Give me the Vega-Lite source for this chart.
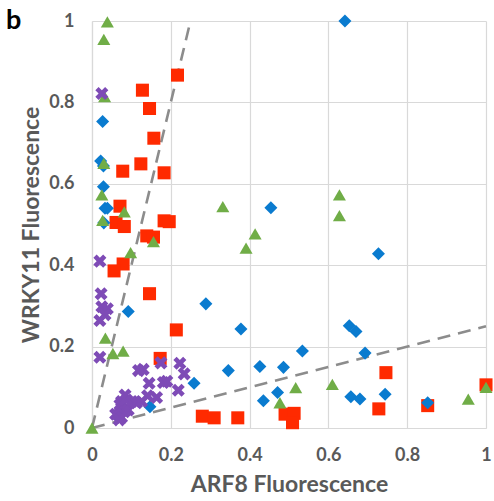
{
  "$schema": "https://vega.github.io/schema/vega-lite/v6.json",
  "width": 394,
  "height": 407,
  "autosize": {"type": "none"},
  "padding": {"left": 92, "top": 21, "right": 8, "bottom": 73},
  "background": "white",
  "title": {"text": "b", "anchor": "start", "frame": "group", "orient": "top", "dx": -86, "dy": 23, "offset": 0, "fontSize": 27, "fontWeight": "bold", "font": "Lato", "color": "#000000", "baseline": "top"},
  "config": {
    "view": {"stroke": null},
    "axis": {"font": "Lato", "labelFont": "Lato", "titleFont": "Lato", "labelFontSize": 18, "labelFontWeight": "bold", "labelColor": "#595959", "titleFontSize": 23, "titleFontWeight": "bold", "titleColor": "#595959", "gridColor": "#d9d9d9", "gridWidth": 1.2, "domainColor": "#d9d9d9", "domainWidth": 1.2, "ticks": false}
  },
  "datasets": {
    "pts": [
      {"s": "Red", "x": 0.217, "y": 0.867}, {"s": "Red", "x": 0.128, "y": 0.830}, {"s": "Red", "x": 0.146, "y": 0.785}, {"s": "Red", "x": 0.157, "y": 0.712},
      {"s": "Red", "x": 0.124, "y": 0.649}, {"s": "Red", "x": 0.183, "y": 0.627}, {"s": "Red", "x": 0.078, "y": 0.631}, {"s": "Red", "x": 0.071, "y": 0.545},
      {"s": "Red", "x": 0.061, "y": 0.505}, {"s": "Red", "x": 0.082, "y": 0.495}, {"s": "Red", "x": 0.183, "y": 0.509}, {"s": "Red", "x": 0.196, "y": 0.507},
      {"s": "Red", "x": 0.139, "y": 0.472}, {"s": "Red", "x": 0.156, "y": 0.469}, {"s": "Red", "x": 0.079, "y": 0.403}, {"s": "Red", "x": 0.056, "y": 0.386},
      {"s": "Red", "x": 0.146, "y": 0.330}, {"s": "Red", "x": 0.214, "y": 0.241}, {"s": "Red", "x": 0.173, "y": 0.171}, {"s": "Red", "x": 0.280, "y": 0.029},
      {"s": "Red", "x": 0.310, "y": 0.025}, {"s": "Red", "x": 0.370, "y": 0.025}, {"s": "Red", "x": 0.490, "y": 0.034}, {"s": "Red", "x": 0.513, "y": 0.036},
      {"s": "Red", "x": 0.509, "y": 0.013}, {"s": "Red", "x": 0.728, "y": 0.047}, {"s": "Red", "x": 0.746, "y": 0.136}, {"s": "Red", "x": 0.852, "y": 0.055},
      {"s": "Red", "x": 1.0, "y": 0.106},
      {"s": "Blue", "x": 0.027, "y": 0.753}, {"s": "Blue", "x": 0.022, "y": 0.656}, {"s": "Blue", "x": 0.029, "y": 0.644}, {"s": "Blue", "x": 0.029, "y": 0.593},
      {"s": "Blue", "x": 0.033, "y": 0.540}, {"s": "Blue", "x": 0.039, "y": 0.540}, {"s": "Blue", "x": 0.030, "y": 0.504}, {"s": "Blue", "x": 0.092, "y": 0.286},
      {"s": "Blue", "x": 0.147, "y": 0.052}, {"s": "Blue", "x": 0.259, "y": 0.110}, {"s": "Blue", "x": 0.289, "y": 0.305}, {"s": "Blue", "x": 0.346, "y": 0.141},
      {"s": "Blue", "x": 0.378, "y": 0.243}, {"s": "Blue", "x": 0.426, "y": 0.151}, {"s": "Blue", "x": 0.454, "y": 0.541}, {"s": "Blue", "x": 0.642, "y": 1.0},
      {"s": "Blue", "x": 0.727, "y": 0.428}, {"s": "Blue", "x": 0.653, "y": 0.251}, {"s": "Blue", "x": 0.670, "y": 0.237}, {"s": "Blue", "x": 0.534, "y": 0.189},
      {"s": "Blue", "x": 0.693, "y": 0.184}, {"s": "Blue", "x": 0.486, "y": 0.149}, {"s": "Blue", "x": 0.471, "y": 0.087}, {"s": "Blue", "x": 0.435, "y": 0.067},
      {"s": "Blue", "x": 0.657, "y": 0.077}, {"s": "Blue", "x": 0.680, "y": 0.071}, {"s": "Blue", "x": 0.744, "y": 0.083}, {"s": "Blue", "x": 0.852, "y": 0.062},
      {"s": "Green", "x": 0.039, "y": 0.998}, {"s": "Green", "x": 0.030, "y": 0.955}, {"s": "Green", "x": 0.032, "y": 0.814}, {"s": "Green", "x": 0.030, "y": 0.650},
      {"s": "Green", "x": 0.025, "y": 0.573}, {"s": "Green", "x": 0.082, "y": 0.531}, {"s": "Green", "x": 0.027, "y": 0.510}, {"s": "Green", "x": 0.156, "y": 0.458},
      {"s": "Green", "x": 0.098, "y": 0.431}, {"s": "Green", "x": 0.034, "y": 0.221}, {"s": "Green", "x": 0.053, "y": 0.183}, {"s": "Green", "x": 0.079, "y": 0.189},
      {"s": "Green", "x": 0.0, "y": 0.0}, {"s": "Green", "x": 0.332, "y": 0.544}, {"s": "Green", "x": 0.414, "y": 0.477}, {"s": "Green", "x": 0.391, "y": 0.442},
      {"s": "Green", "x": 0.628, "y": 0.573}, {"s": "Green", "x": 0.628, "y": 0.522}, {"s": "Green", "x": 0.517, "y": 0.099}, {"s": "Green", "x": 0.610, "y": 0.107},
      {"s": "Green", "x": 0.477, "y": 0.062}, {"s": "Green", "x": 0.955, "y": 0.071}, {"s": "Green", "x": 1.0, "y": 0.100},
      {"s": "Purple", "x": 0.025, "y": 0.822}, {"s": "Purple", "x": 0.020, "y": 0.410}, {"s": "Purple", "x": 0.023, "y": 0.330}, {"s": "Purple", "x": 0.025, "y": 0.298},
      {"s": "Purple", "x": 0.039, "y": 0.293}, {"s": "Purple", "x": 0.033, "y": 0.278}, {"s": "Purple", "x": 0.020, "y": 0.264}, {"s": "Purple", "x": 0.020, "y": 0.174},
      {"s": "Purple", "x": 0.175, "y": 0.160}, {"s": "Purple", "x": 0.223, "y": 0.159}, {"s": "Purple", "x": 0.234, "y": 0.133}, {"s": "Purple", "x": 0.118, "y": 0.141},
      {"s": "Purple", "x": 0.130, "y": 0.144}, {"s": "Purple", "x": 0.145, "y": 0.110}, {"s": "Purple", "x": 0.181, "y": 0.112}, {"s": "Purple", "x": 0.190, "y": 0.115},
      {"s": "Purple", "x": 0.219, "y": 0.093}, {"s": "Purple", "x": 0.164, "y": 0.075}, {"s": "Purple", "x": 0.141, "y": 0.079}, {"s": "Purple", "x": 0.084, "y": 0.081},
      {"s": "Purple", "x": 0.075, "y": 0.065}, {"s": "Purple", "x": 0.088, "y": 0.069}, {"s": "Purple", "x": 0.101, "y": 0.065}, {"s": "Purple", "x": 0.113, "y": 0.062},
      {"s": "Purple", "x": 0.126, "y": 0.065}, {"s": "Purple", "x": 0.071, "y": 0.057}, {"s": "Purple", "x": 0.092, "y": 0.044}, {"s": "Purple", "x": 0.082, "y": 0.040},
      {"s": "Purple", "x": 0.067, "y": 0.032}, {"s": "Purple", "x": 0.060, "y": 0.034}, {"s": "Purple", "x": 0.075, "y": 0.026}, {"s": "Purple", "x": 0.069, "y": 0.020}
    ],
    "lines": [
      {"g": "steep", "x": 0, "y": 0}, {"g": "steep", "x": 0.25, "y": 1},
      {"g": "shallow", "x": 0, "y": 0}, {"g": "shallow", "x": 1, "y": 0.25}
    ]
  },
  "layer": [
    {
      "data": {"name": "lines"},
      "mark": {"type": "line", "color": "#8c8c8c", "strokeWidth": 2.6, "strokeDash": [13, 8]},
      "encoding": {
        "x": {"field": "x", "type": "quantitative", "scale": {"domain": [0, 1], "nice": false}, "axis": {"title": "ARF8 Fluorescence", "values": [0, 0.2, 0.4, 0.6, 0.8, 1], "labelPadding": 18, "titlePadding": 9, "format": "~g", "labelFlush": false}},
        "y": {"field": "y", "type": "quantitative", "scale": {"domain": [0, 1], "nice": false}, "axis": {"title": "WRKY11 Fluorescence", "values": [0, 0.2, 0.4, 0.6, 0.8, 1], "labelPadding": 18, "titlePadding": 5, "format": "~g", "labelFlush": false}},
        "detail": {"field": "g"}
      }
    },
    {
      "data": {"name": "pts"},
      "mark": {"type": "point", "filled": true, "opacity": 1, "strokeWidth": 0},
      "encoding": {
        "x": {"field": "x", "type": "quantitative"},
        "y": {"field": "y", "type": "quantitative"},
        "color": {"field": "s", "type": "nominal", "legend": null, "scale": {"domain": ["Blue", "Red", "Green", "Purple"], "range": ["#0a7bcf", "#ff2a00", "#70ad47", "#7e4bb6"]}},
        "shape": {"field": "s", "type": "nominal", "legend": null, "scale": {"domain": ["Blue", "Red", "Green", "Purple"], "range": ["diamond", "square", "triangle-up", "M-1,-0.5L-0.5,-1L0,-0.5L0.5,-1L1,-0.5L0.5,0L1,0.5L0.5,1L0,0.5L-0.5,1L-1,0.5L-0.5,0Z"]}},
        "size": {"field": "s", "type": "nominal", "legend": null, "scale": {"domain": ["Blue", "Red", "Green", "Purple"], "range": [170, 170, 170, 130]}}
      }
    }
  ]
}
